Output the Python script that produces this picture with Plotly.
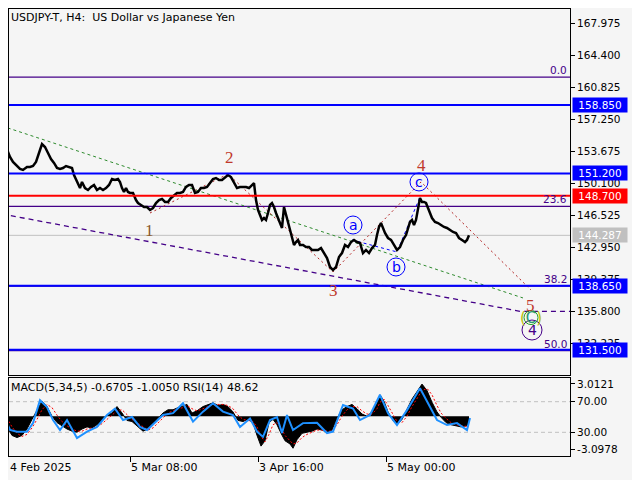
import plotly.graph_objects as go

# H4 bars counted from 4 Feb 2025 00:00 (one bar = one pixel on the MT4 chart)
bar_idx = [1, 3, 6, 8, 11, 14, 18, 21, 25, 28, 31, 34, 36, 38, 40, 43, 46, 49, 52, 55,
           58, 61, 64, 67, 70, 72, 74, 76, 78, 80, 83, 86, 89, 92, 95, 98, 101, 104, 107, 110,
           113, 116, 118, 120, 122, 124, 126, 128, 131, 134, 136, 139, 142, 145, 148, 151, 154, 157, 160, 163,
           166, 169, 172, 175, 178, 181, 184, 187, 190, 193, 196, 199, 202, 205, 208, 211, 214, 217, 220, 223,
           226, 229, 232, 235, 238, 241, 244, 247, 250, 252, 254, 256, 258, 260, 262, 264, 266, 268, 270, 272,
           274, 276, 278, 280, 282, 284, 286, 288, 290, 292, 294, 296, 298, 301, 304, 307, 310, 313, 316, 319,
           322, 325, 328, 331, 334, 337, 340, 343, 346, 349, 352, 355, 358, 361, 364, 367, 370, 373, 375, 377,
           379, 381, 383, 386, 389, 392, 395, 398, 401, 404, 406, 408, 410, 412, 414, 416, 418, 420, 422, 424,
           427, 430, 433, 436, 439, 442, 445, 448, 451, 454, 457, 460, 463, 465, 467]
close = [155.27, 154.94, 153.60, 153.04, 152.48, 152.14, 151.70, 151.59, 151.92, 151.92,
         152.03, 152.48, 153.04, 153.82, 154.49, 154.15, 153.49, 152.81, 152.37, 151.81,
         151.70, 151.81, 152.03, 151.92, 151.81, 151.03, 150.47, 149.91, 149.57, 150.25,
         149.57, 149.35, 149.69, 149.91, 149.35, 149.57, 149.35, 149.57, 149.91, 150.58,
         150.47, 150.58, 150.25, 149.57, 149.13, 149.57, 149.13, 149.02, 149.02, 148.23,
         147.90, 147.68, 147.45, 147.45, 147.12, 147.34, 147.90, 148.23, 148.35, 148.01,
         148.01, 148.46, 148.79, 149.02, 149.02, 149.13, 149.69, 149.91, 149.91, 149.02,
         149.13, 149.57, 149.57, 149.69, 150.13, 150.58, 150.69, 150.47, 150.47, 150.80,
         151.03, 150.80, 150.25, 149.57, 149.69, 149.69, 149.69, 149.57, 149.91, 150.13,
         148.23, 147.12, 146.56, 146.00, 146.22, 146.00, 146.78, 147.68, 147.90, 147.45,
         146.78, 146.22, 145.66, 145.11, 147.45, 146.56, 145.66, 144.66, 143.77, 143.21,
         143.54, 143.77, 143.21, 143.21, 142.98, 142.98, 142.65, 142.65, 142.65, 142.87,
         142.31, 141.75, 140.75, 140.41, 140.75, 141.87, 142.31, 143.21, 142.98, 143.54,
         143.77, 143.54, 143.43, 142.31, 142.65, 142.31, 142.87, 143.21, 144.32, 145.22,
         145.66, 145.11, 144.55, 143.99, 143.77, 143.21, 142.65, 142.98, 143.77, 144.32,
         145.11, 145.78, 146.00, 145.44, 146.00, 147.45, 148.46, 148.01, 148.01, 147.90,
         147.12, 146.22, 145.78, 145.66, 145.44, 145.22, 145.11, 144.88, 144.66, 144.55,
         143.99, 143.77, 143.54, 143.77, 144.29]

# MACD(5,34,5) main / signal
macd_idx = [1, 5, 10, 15, 20, 25, 30, 35, 40, 45, 50, 55, 60, 65, 70, 75, 80, 85, 90, 95,
            100, 105, 110, 115, 120, 125, 130, 135, 141, 146, 151, 156, 161, 166, 171, 176, 181, 185, 190, 195,
            201, 206, 211, 216, 221, 226, 231, 236, 241, 246, 251, 255, 259, 263, 267, 271, 275, 279, 283, 288,
            291, 295, 300, 305, 310, 315, 320, 325, 330, 335, 340, 345, 350, 355, 360, 365, 370, 375, 378, 382,
            386, 391, 395, 400, 405, 410, 415, 420, 425, 430, 435, 439, 444, 449, 454, 459, 464, 467]
macd_main = [0.2, -1.0, -1.8, -2.0, -1.8, -1.2, -0.3, 0.6, 1.4, 0.9, 0.0,
             -0.6, -0.9, -1.2, -1.4, -1.5, -1.2, -1.0, -1.1, -0.8, -0.4,
             0.1, 0.3, 0.9, 0.3, -0.4, -0.5, -0.9, -1.4, -1.2, -0.8,
             -0.2, 0.3, 0.6, 0.6, 0.8, 1.0, 1.1, 0.3, 0.5, 0.9,
             1.1, 1.25, 1.0, 1.1, 0.9, 0.4, -0.4, -0.5, -0.3, -0.6,
             -1.8, -2.8, -2.3, -0.6, -0.3, -0.8, -1.6, -2.3, -2.6, -3.0,
             -2.2, -1.6, -1.5, -1.4, -1.2, -1.3, -1.5, -1.3, -0.2, 0.6,
             0.9, 1.1, 0.7, 0.2, 0.0, 0.4, 1.2, 2.0, 1.4, 0.4,
             -0.4, -0.8, -0.3, 0.7, 1.6, 2.3, 3.0, 2.4, 1.3, 0.4,
             -0.1, -0.6, -0.8, -0.9, -1.0, -0.9, -0.6705]
macd_signal = [0.5, -0.2, -1.0, -1.6, -1.9, -1.7, -1.1, -0.3, 0.6, 1.1, 0.8,
               0.1, -0.5, -0.9, -1.2, -1.4, -1.4, -1.2, -1.1, -1.0, -0.7,
               -0.3, 0.1, 0.5, 0.6, 0.1, -0.3, -0.6, -1.0, -1.3, -1.1,
               -0.6, -0.1, 0.3, 0.5, 0.7, 0.8, 1.0, 0.7, 0.5, 0.7,
               0.9, 1.1, 1.1, 1.1, 1.0, 0.7, 0.1, -0.3, -0.4, -0.5,
               -1.0, -1.9, -2.4, -1.7, -0.8, -0.6, -1.1, -1.8, -2.3, -2.6,
               -2.5, -2.0, -1.7, -1.5, -1.3, -1.3, -1.4, -1.4, -0.8, 0.0,
               0.6, 0.9, 0.9, 0.5, 0.2, 0.2, 0.7, 1.3, 1.6, 1.0,
               0.2, -0.5, -0.6, 0.0, 0.9, 1.7, 2.4, 2.6, 2.0, 1.0,
               0.3, -0.2, -0.6, -0.8, -0.9, -1.0, -1.005]

# RSI(14)
rsi_idx = [1, 8, 15, 25, 31, 38, 45, 51, 58, 65, 75, 85, 95, 105, 113, 121, 130, 138, 145, 155,
           161, 171, 181, 191, 201, 211, 221, 231, 238, 248, 255, 261, 268, 275, 280, 285, 291, 301, 315, 325,
           331, 341, 351, 358, 368, 378, 386, 395, 405, 418, 426, 435, 445, 455, 465, 468]
rsi = [54.8, 33, 30.8, 30.8, 42, 72, 63, 46, 33, 46, 22.5, 31, 37, 52.6, 61, 46, 50, 37, 33, 46,
       52.6, 55, 68, 44, 57, 68, 57, 52.6, 37, 48, 31, 24, 46, 50, 29, 52.6, 33, 42, 42.5, 29,
       31, 65.7, 61, 46, 52.6, 79, 55, 39.5, 59, 87.5, 68, 46, 39.5, 42, 33, 48.62]

# horizontal levels
level_px = [158.850, 151.200, 148.700, 138.650, 131.500]
level_col = ["#0000ff", "#0000ff", "#ff0000", "#0000ff", "#0000ff"]
last_px = 144.287
fib_lbl = ["0.0", "23.6", "38.2", "50.0"]
fib_px = [161.95, 147.53, 138.61, 131.40]

# trend lines
green_idx = [0, 521]
green_px = [156.50, 137.29]
purple_idx = [0, 518, 568]
purple_px = [146.67, 135.80, 135.80]

# Elliott wave count
wave_idx = [148, 226, 331, 419, 529]
wave_px = [146.78, 151.14, 140.19, 150.25, 138.18]
wave_lbl = ["1", "2", "3", "4", "5"]
wave_lbl_idx = [147, 227, 331, 419, 528]
wave_lbl_px = [144.88, 152.93, 138.07, 152.14, 136.50]
abc_idx = [350, 395, 418]
abc_px = [143.77, 142.43, 148.57]
abc_lbl = ["a", "b", "c"]
abc_lbl_idx = [351, 394, 417]
abc_lbl_px = [145.44, 140.75, 150.25]
big_c_idx, big_c_px = 529, 135.10
big4_idx, big4_px = 530, 133.71

price_ticks = [167.975, 164.400, 160.825, 157.250, 153.675, 150.100, 146.525,
               142.950, 139.375, 135.800, 132.225]
date_ticks = [0, 128, 256, 384]
date_lbl = ["4 Feb 2025", "5 Mar 08:00", "3 Apr 16:00", "5 May 00:00"]

# the page body adds an 8px margin, so the figure is sized to fit the window
OFF = 8
W, H = 640 - OFF, 480 - OFF
FONT = "DejaVu Sans"
FS = 10.5
BG = "#f5f5f5"
PURPLE = "#440088"


def px_x(wx):
    return (wx - OFF) / W


def px_y(wy):
    return 1 - (wy - OFF) / H


X_LO = 7  # first bar visible inside the window
X_HI = 568

fig = go.Figure()

# MACD histogram (black), signal (red dotted), RSI (blue)
fig.add_trace(go.Scatter(x=macd_idx, y=macd_main, xaxis="x2", yaxis="y2", mode="lines",
                         fill="tozeroy", fillcolor="black", line=dict(color="black", width=1)))
fig.add_trace(go.Scatter(x=macd_idx, y=macd_signal, xaxis="x2", yaxis="y2", mode="lines",
                         line=dict(color="red", width=1, dash="2px,2px")))
fig.add_trace(go.Scatter(x=rsi_idx, y=rsi, xaxis="x2", yaxis="y3", mode="lines",
                         line=dict(color="#1e90ff", width=2)))

# trend lines
fig.add_trace(go.Scatter(x=purple_idx, y=purple_px, mode="lines",
                         line=dict(color=PURPLE, width=1.3, dash="5px,4px")))
fig.add_trace(go.Scatter(x=green_idx, y=green_px, mode="lines",
                         line=dict(color="#2e8b2e", width=1, dash="3px,3px")))
fig.add_trace(go.Scatter(x=wave_idx, y=wave_px, mode="lines",
                         line=dict(color="#b22222", width=1, dash="2px,3px")))
fig.add_trace(go.Scatter(x=abc_idx, y=abc_px, mode="lines",
                         line=dict(color="#0000ff", width=1, dash="3px,3px")))

# price
fig.add_trace(go.Scatter(x=bar_idx, y=close, mode="lines",
                         line=dict(color="black", width=2.5)))

shapes = []
for p in fib_px:
    shapes.append(dict(type="line", xref="x domain", x0=0, x1=1, yref="y", y0=p, y1=p,
                       line=dict(color=PURPLE, width=1.3), layer="below"))
shapes.append(dict(type="line", xref="x domain", x0=0, x1=1, yref="y", y0=last_px, y1=last_px,
                   line=dict(color="#c0c0c0", width=1), layer="below"))
for p, c in zip(level_px, level_col):
    shapes.append(dict(type="line", xref="x domain", x0=0, x1=1, yref="y", y0=p, y1=p,
                       line=dict(color=c, width=2)))
for lvl in (70, 30):
    shapes.append(dict(type="line", xref="x2 domain", x0=0, x1=1, yref="y3", y0=lvl, y1=lvl,
                       line=dict(color="#c0c0c0", width=1, dash="4px,3px"), layer="below"))


def circle(xv, yv, color, r=9):
    return dict(type="circle", xref="x", yref="y", xsizemode="pixel", ysizemode="pixel",
                xanchor=xv, yanchor=yv, x0=-r, x1=r, y0=-r, y1=r,
                line=dict(color=color, width=1))


for xv, yv in zip(abc_lbl_idx, abc_lbl_px):
    shapes.append(circle(xv, yv, "#0000ff"))
shapes.append(circle(big4_idx, big4_px, PURPLE, r=10))
shapes.append(circle(big_c_idx, big_c_px, "#22a022", r=7))

annotations = [
    dict(text="USDJPY-T, H4:\u00a0 US Dollar vs Japanese Yen", xref="paper", yref="paper",
         x=px_x(8.5), y=px_y(9), xanchor="left", yanchor="top", showarrow=False,
         font=dict(family=FONT, size=11, color="black")),
    dict(text="MACD(5,34,5) -0.6705 -1.0050 RSI(14) 48.62", xref="paper", yref="paper",
         x=px_x(8.5), y=px_y(387), xanchor="left", yanchor="middle", showarrow=False,
         font=dict(family=FONT, size=11, color="black")),
]
for t, v in zip(date_lbl, date_ticks):
    annotations.append(dict(text=t, xref="x2", x=max(v, X_LO), xanchor="left", yref="paper",
                            y=px_y(467), yanchor="middle", showarrow=False, borderpad=0,
                            font=dict(family=FONT, size=11, color="black")))
for t, p in zip(fib_lbl, fib_px):
    annotations.append(dict(text=t, xref="paper", x=px_x(568), xanchor="right", yref="y", y=p,
                            yanchor="bottom", showarrow=False, borderpad=0,
                            font=dict(family=FONT, size=FS, color=PURPLE)))
for p, c in list(zip(level_px, level_col)) + [(last_px, "#c0c0c0")]:
    annotations.append(dict(text=f"{p:.3f}", xref="paper", x=px_x(572), xanchor="left", yref="y", y=p,
                            yanchor="middle", showarrow=False, bgcolor=c, width=52, height=12,
                            borderpad=1, align="center",
                            font=dict(family=FONT, size=FS, color="white")))
for t, xv, yv in zip(wave_lbl, wave_lbl_idx, wave_lbl_px):
    annotations.append(dict(text=t, x=xv, y=yv, showarrow=False,
                            font=dict(family="Liberation Serif", size=17,
                                      color="#8b5a2b" if t == "1" else "#c0392b")))
for t, xv, yv in zip(abc_lbl, abc_lbl_idx, abc_lbl_px):
    annotations.append(dict(text=t, x=xv, y=yv, showarrow=False,
                            font=dict(family=FONT, size=14, color="#0000ff")))
annotations.append(dict(text="<span style='color:#b8c000'>(</span>C<span style='color:#b8c000'>)</span>",
                        x=big_c_idx, y=big_c_px, showarrow=False,
                        font=dict(family=FONT, size=15, color="#2a9a6a")))
annotations.append(dict(text="4", x=big4_idx, y=big4_px, showarrow=False,
                        font=dict(family=FONT, size=14, color=PURPLE)))

axis_common = dict(showgrid=False, zeroline=False, showline=True, mirror=True,
                   linecolor="black", linewidth=1, tickcolor="black",
                   tickfont=dict(family=FONT, size=FS, color="black"))

fig.update_layout(
    width=W, height=H, margin=dict(l=0, r=0, t=0, b=0),
    paper_bgcolor=BG, plot_bgcolor=BG, showlegend=False, hovermode=False,
    shapes=shapes, annotations=annotations,
    xaxis=dict(domain=[px_x(9), px_x(570)], range=[X_LO, X_HI], anchor="y",
               showticklabels=False, ticks="", **axis_common),
    yaxis=dict(domain=[px_y(375), px_y(9)], range=[128.683, 169.572], anchor="x",
               side="right", tickvals=price_ticks, ticktext=[f"{v:.3f}" for v in price_ticks],
               ticks="outside", ticklen=4, **axis_common),
    xaxis2=dict(domain=[px_x(9), px_x(570)], range=[X_LO, X_HI], anchor="y2",
                tickvals=date_ticks, showticklabels=False, ticks="outside", ticklen=5,
                **axis_common),
    yaxis2=dict(domain=[px_y(456), px_y(378)], range=[-3.725, 3.573], anchor="x2",
                side="right", tickvals=[3.0121, -3.0978], ticktext=["3.0121", "-3.0978"],
                ticks="outside", ticklen=4, **axis_common),
    yaxis3=dict(overlaying="y2", range=[-0.98, 100.98], anchor="x2", side="right",
                tickvals=[70, 30], ticktext=["70.00", "30.00"], ticks="outside", ticklen=4,
                showgrid=False, zeroline=False, showline=False, tickcolor="black",
                tickfont=dict(family=FONT, size=FS, color="black")),
)

fig.write_html("out.html")
